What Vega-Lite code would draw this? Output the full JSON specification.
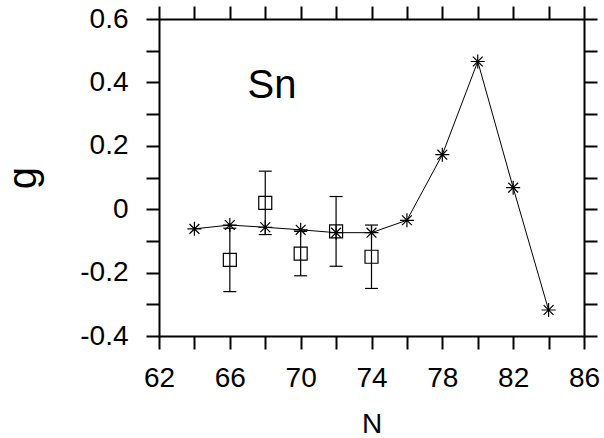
{
  "$schema": "https://vega.github.io/schema/vega-lite/v6.json",
  "width": 425,
  "height": 317,
  "autosize": "none",
  "padding": {"left": 159, "top": 19, "right": 20, "bottom": 102},
  "background": "white",
  "config": {
    "view": {"stroke": null},
    "font": "Liberation Sans",
    "axis": {"grid": false, "domainColor": "black", "domainWidth": 2, "tickColor": "black", "tickWidth": 2, "tickSize": 13, "labelColor": "black", "titleColor": "black", "labelFont": "Liberation Sans", "titleFont": "Liberation Sans", "titleFontWeight": "normal"}
  },
  "datasets": {
    "calc": [
      {"N": 64, "g": -0.062},
      {"N": 66, "g": -0.05},
      {"N": 68, "g": -0.057},
      {"N": 70, "g": -0.065},
      {"N": 72, "g": -0.074},
      {"N": 74, "g": -0.074},
      {"N": 76, "g": -0.035},
      {"N": 78, "g": 0.172},
      {"N": 80, "g": 0.466},
      {"N": 82, "g": 0.068},
      {"N": 84, "g": -0.318}
    ],
    "expt": [
      {"N": 66, "g": -0.16, "lo": -0.26, "hi": -0.06},
      {"N": 68, "g": 0.02, "lo": -0.08, "hi": 0.12},
      {"N": 70, "g": -0.14, "lo": -0.21, "hi": -0.07},
      {"N": 72, "g": -0.07, "lo": -0.18, "hi": 0.04},
      {"N": 74, "g": -0.15, "lo": -0.25, "hi": -0.05}
    ],
    "label": [{"N": 67.0, "g": 0.39, "text": "Sn"}]
  },
  "layer": [
    {
      "data": {"name": "calc"},
      "mark": {"type": "line", "color": "black", "strokeWidth": 1},
      "encoding": {
        "x": {"field": "N", "type": "quantitative", "scale": {"domain": [62, 86], "nice": false, "zero": false},
          "axis": {"orient": "bottom", "values": [62,64,66,68,70,72,74,76,78,80,82,84,86], "labelExpr": "datum.value % 4 == 2 ? datum.label : ''", "labelFontSize": 28, "labelPadding": 15, "labelFlush": false, "labelOverlap": false, "title": "N", "titleFontSize": 28, "titlePadding": 18}},
        "y": {"field": "g", "type": "quantitative", "scale": {"domain": [-0.4, 0.6], "nice": false, "zero": false},
          "axis": {"orient": "left", "values": [-0.4,-0.3,-0.2,-0.1,0,0.1,0.2,0.3,0.4,0.5,0.6], "labelExpr": "round(datum.value*10) % 2 == 0 ? '' + datum.value : ''", "labelFontSize": 28, "labelPadding": 18, "labelFlush": false, "labelOverlap": false, "title": "g", "titleFontSize": 40, "titlePadding": 36}}
      }
    },
    {
      "data": {"name": "calc"},
      "mark": {"type": "point", "shape": "M-1,0L1,0M0,-1L0,1M-0.7,-0.7L0.7,0.7M-0.7,0.7L0.7,-0.7", "filled": false, "stroke": "black", "strokeWidth": 1.2, "size": 196, "opacity": 1},
      "encoding": {
        "x": {"field": "N", "type": "quantitative", "axis": null},
        "y": {"field": "g", "type": "quantitative", "axis": null}
      }
    },
    {
      "data": {"name": "expt"},
      "mark": {"type": "rule", "color": "black", "strokeWidth": 1.2},
      "encoding": {
        "x": {"field": "N", "type": "quantitative", "axis": null},
        "y": {"field": "lo", "type": "quantitative", "axis": null},
        "y2": {"field": "hi"}
      }
    },
    {
      "data": {"name": "expt"},
      "mark": {"type": "tick", "orient": "horizontal", "color": "black", "thickness": 1.2, "size": 13, "opacity": 1},
      "encoding": {
        "x": {"field": "N", "type": "quantitative", "axis": null},
        "y": {"field": "lo", "type": "quantitative", "axis": null}
      }
    },
    {
      "data": {"name": "expt"},
      "mark": {"type": "tick", "orient": "horizontal", "color": "black", "thickness": 1.2, "size": 13, "opacity": 1},
      "encoding": {
        "x": {"field": "N", "type": "quantitative", "axis": null},
        "y": {"field": "hi", "type": "quantitative", "axis": null}
      }
    },
    {
      "data": {"name": "expt"},
      "mark": {"type": "point", "shape": "square", "filled": false, "stroke": "black", "strokeWidth": 1.2, "size": 169, "opacity": 1},
      "encoding": {
        "x": {"field": "N", "type": "quantitative", "axis": null},
        "y": {"field": "g", "type": "quantitative", "axis": null}
      }
    },
    {
      "data": {"name": "label"},
      "mark": {"type": "text", "fontSize": 40, "font": "Liberation Sans", "align": "left", "baseline": "middle", "color": "black"},
      "encoding": {
        "x": {"field": "N", "type": "quantitative", "axis": null},
        "y": {"field": "g", "type": "quantitative", "axis": null},
        "text": {"field": "text"}
      }
    },
    {
      "data": {"name": "calc"},
      "mark": {"type": "point", "opacity": 0},
      "encoding": {
        "x": {"field": "N", "type": "quantitative", "axis": {"orient": "top", "values": [62,64,66,68,70,72,74,76,78,80,82,84,86], "labels": false, "title": null}},
        "y": {"field": "g", "type": "quantitative", "axis": {"orient": "right", "values": [-0.4,-0.3,-0.2,-0.1,0,0.1,0.2,0.3,0.4,0.5,0.6], "labels": false, "title": null}}
      }
    }
  ],
  "resolve": {"axis": {"x": "independent", "y": "independent"}}
}
